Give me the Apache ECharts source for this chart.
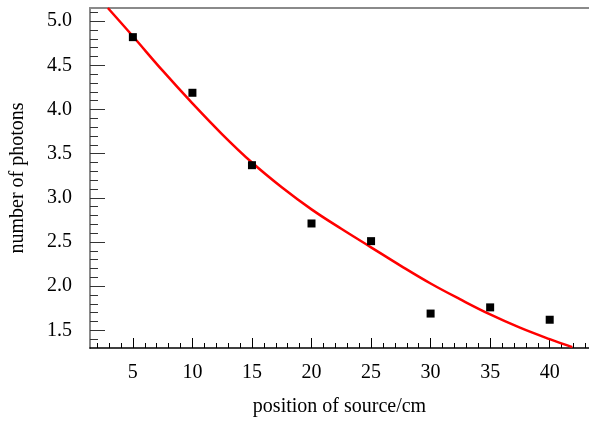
<!DOCTYPE html>
<html>
<head>
<meta charset="utf-8">
<script src="https://cdn.jsdelivr.net/npm/echarts@6/dist/echarts.min.js"></script>
<style>
  html, body { margin: 0; padding: 0; background: #fff; }
  #chart { width: 589px; height: 422px; }
</style>
</head>
<body>
<div id="chart"></div>
<script>
// measured points
var sourcePos = [5, 10, 15, 20, 25, 30, 35, 40];
var photons = [4.82, 4.19, 3.37, 2.71, 2.51, 1.69, 1.76, 1.62];

// fitted curve
var fitX = [2.9, 5, 7.5, 10, 12.5, 15, 17.5, 20, 22.5, 25, 27.5, 30, 32.5, 35, 37.5, 40, 41.9];
var fitY = [5.15, 4.83, 4.44, 4.07, 3.72, 3.40, 3.12, 2.87, 2.65, 2.44, 2.23, 2.03, 1.85, 1.68, 1.53, 1.40, 1.31];

// ticks
var xMajor = [5, 10, 15, 20, 25, 30, 35, 40];
var xMinor = [2, 3, 4, 6, 7, 8, 9, 11, 12, 13, 14, 16, 17, 18, 19, 21, 22, 23, 24,
  26, 27, 28, 29, 31, 32, 33, 34, 36, 37, 38, 39, 41, 42, 43];
var yMajor = [1.5, 2.0, 2.5, 3.0, 3.5, 4.0, 4.5, 5.0];
var yMinor = [1.4, 1.6, 1.7, 1.8, 1.9, 2.1, 2.2, 2.3, 2.4, 2.6, 2.7, 2.8, 2.9,
  3.1, 3.2, 3.3, 3.4, 3.6, 3.7, 3.8, 3.9, 4.1, 4.2, 4.3, 4.4, 4.6, 4.7, 4.8, 4.9, 5.1];

var X_MIN = 1.4, X_MAX = 43.3;
var Y_MIN = 1.3, Y_MAX = 5.15;

var font = 'Liberation Serif';

var chart = echarts.init(document.getElementById('chart'));

function xAx(extra) {
  return Object.assign({
    type: 'value', min: X_MIN, max: X_MAX, position: 'bottom',
    splitLine: { show: false },
    axisLine: { show: false },
    axisTick: { show: false },
    axisLabel: { show: false }
  }, extra);
}
function yAx(extra) {
  return Object.assign({
    type: 'value', min: Y_MIN, max: Y_MAX, position: 'left',
    splitLine: { show: false },
    axisLine: { show: false },
    axisTick: { show: false },
    axisLabel: { show: false }
  }, extra);
}

var option = {
  backgroundColor: '#ffffff',
  animation: false,
  grid: { left: 89, top: 8, right: 0, bottom: 72 },
  xAxis: [
    xAx({
      name: 'position of source/cm',
      nameLocation: 'middle',
      nameGap: 49,
      nameTextStyle: { fontFamily: font, fontSize: 20, color: '#000' },
      axisLine: { show: true, lineStyle: { color: '#000', width: 1.5 } },
      axisTick: { show: true, inside: true, length: 10, customValues: xMajor, lineStyle: { color: '#000' } },
      axisLabel: { show: true, customValues: xMajor, margin: 15, fontFamily: font, fontSize: 20, color: '#000' }
    }),
    xAx({
      axisTick: { show: true, inside: true, length: 5, customValues: xMinor, lineStyle: { color: '#000' } }
    }),
    xAx({
      position: 'top',
      axisLine: { show: true, lineStyle: { color: '#8a8a8a', width: 2 } }
    })
  ],
  yAxis: [
    yAx({
      name: 'number of photons',
      nameLocation: 'middle',
      nameGap: 62,
      nameTextStyle: { fontFamily: font, fontSize: 20, color: '#000' },
      axisLine: { show: true, lineStyle: { color: '#8a8a8a', width: 2 } },
      axisTick: { show: true, inside: true, length: 15, customValues: yMajor, lineStyle: { color: '#333' } },
      axisLabel: {
        show: true, customValues: yMajor, margin: 18, fontFamily: font, fontSize: 20, color: '#000',
        formatter: function (v) { return v.toFixed(1); }
      }
    }),
    yAx({
      axisTick: { show: true, inside: true, length: 8, customValues: yMinor, lineStyle: { color: '#333' } }
    })
  ],
  series: [
    {
      type: 'line',
      xAxisIndex: 0,
      yAxisIndex: 0,
      smooth: 0.4,
      showSymbol: false,
      clip: true,
      lineStyle: { color: '#ff0000', width: 2.5 },
      data: fitX.map(function (x, i) { return [x, fitY[i]]; }),
      z: 3
    },
    {
      type: 'scatter',
      xAxisIndex: 0,
      yAxisIndex: 0,
      symbol: 'rect',
      symbolSize: 8,
      itemStyle: { color: '#000', opacity: 1 },
      data: sourcePos.map(function (x, i) { return [x, photons[i]]; }),
      z: 4
    }
  ]
};

chart.setOption(option);
</script>
</body>
</html>
